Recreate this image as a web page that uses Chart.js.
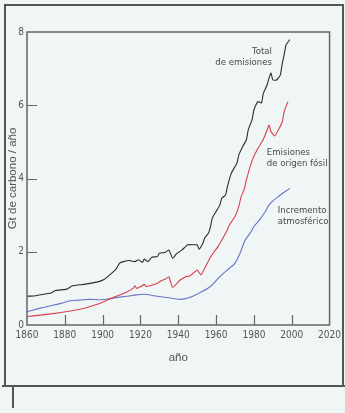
<!DOCTYPE html>
<html><head><meta charset="utf-8">
<script src="https://cdn.jsdelivr.net/npm/chart.js@4/dist/chart.umd.min.js"></script>
<style>html,body{margin:0;padding:0;background:#eff6f5;}canvas{display:block}</style>
</head><body>
<canvas id="c" width="345" height="413"></canvas>
<script>
const xTickLabels = [1860,1880,1900,1920,1940,1960,1980,2000,2020];
const yTickLabels = [0,2,4,6,8];

const totalYears = [1860,1863,1870,1873,1875,1881,1884,1890,1897,1901,1904,1907,1909,1911,1914,1917,1919,1921,1922,1924,1926,1929,1930,1933,1935,1937,1939,1942,1945,1948,1950,1951,1953,1954,1956,1957,1958,1960,1962,1963,1965,1966,1968,1971,1972,1974,1976,1977,1979,1980,1982,1984,1985,1987,1988,1989,1990,1992,1994,1995,1996,1997,1999];
const totalValues = [0.79,0.79,0.85,0.88,0.94,0.98,1.07,1.11,1.17,1.25,1.38,1.52,1.69,1.73,1.76,1.73,1.78,1.71,1.80,1.73,1.85,1.87,1.96,1.98,2.05,1.82,1.94,2.05,2.19,2.19,2.19,2.07,2.23,2.38,2.51,2.68,2.92,3.10,3.28,3.46,3.55,3.78,4.14,4.42,4.64,4.87,5.05,5.33,5.60,5.87,6.10,6.06,6.33,6.56,6.74,6.88,6.69,6.69,6.83,7.15,7.38,7.65,7.79];

const fossilYears = [1860,1867,1878,1883,1888,1893,1899,1904,1909,1913,1916,1917,1918,1921,1922,1923,1925,1929,1931,1933,1935,1937,1941,1944,1946,1949,1950,1952,1954,1957,1959,1961,1964,1966,1967,1970,1972,1973,1975,1976,1979,1982,1985,1987,1988,1989,1991,1993,1995,1996,1998];
const fossilValues = [0.23,0.27,0.34,0.38,0.43,0.50,0.60,0.72,0.82,0.91,1.00,1.07,1.00,1.07,1.11,1.05,1.07,1.14,1.21,1.25,1.32,1.03,1.23,1.32,1.34,1.46,1.50,1.37,1.55,1.85,2.00,2.14,2.41,2.60,2.73,2.96,3.23,3.46,3.73,3.96,4.48,4.81,5.07,5.33,5.46,5.28,5.16,5.33,5.55,5.83,6.10];

const atmosYears = [1860,1867,1878,1883,1888,1893,1899,1904,1909,1915,1922,1927,1934,1941,1946,1951,1957,1962,1967,1970,1973,1975,1978,1980,1983,1986,1988,1994,1999];
const atmosValues = [0.36,0.46,0.59,0.66,0.68,0.70,0.69,0.72,0.76,0.80,0.84,0.80,0.75,0.70,0.75,0.87,1.05,1.32,1.55,1.69,2.00,2.28,2.51,2.69,2.87,3.10,3.28,3.55,3.73];

const seriesLabels = ['Total de emisiones','Emisiones de origen fósil','Incremento atmosférico'];
const annotations = [
  {lines:['Total','de emisiones'], year:1989.5, value:7.46, align:'right'},
  {lines:['Emisiones','de origen fósil'], year:1986.8, value:4.70, align:'left'},
  {lines:['Incremento','atmosférico'], year:1992.6, value:3.12, align:'left'}
];

const NARROW = "'Liberation Sans Narrow','DejaVu Sans Condensed','Arial Narrow',sans-serif";
const REG = "'Liberation Sans',Arial,sans-serif";
const pts = (xs, ys) => xs.map((x, i) => ({x, y: ys[i]}));

const decor = {
  id: 'decor',
  beforeDraw(chart) {
    const ctx = chart.ctx;
    ctx.save();
    ctx.fillStyle = '#eff6f5';
    ctx.fillRect(0, 0, chart.width, chart.height);
    ctx.strokeStyle = '#555';
    ctx.lineWidth = 2;
    ctx.beginPath();
    ctx.moveTo(5, 386); ctx.lineTo(5, 5); ctx.lineTo(343, 5); ctx.lineTo(343, 386);
    ctx.moveTo(2, 386); ctx.lineTo(345, 386);
    ctx.moveTo(13, 386); ctx.lineTo(13, 408);
    ctx.stroke();
    ctx.restore();
  },
  afterDraw(chart) {
    const ctx = chart.ctx;
    const a = chart.chartArea;
    const xs = chart.scales.x, ys = chart.scales.y;
    ctx.save();
    ctx.strokeStyle = '#666';
    ctx.lineWidth = 1.5;
    ctx.strokeRect(a.left, a.top, a.right - a.left, a.bottom - a.top);
    ctx.lineWidth = 1.2;
    ctx.beginPath();
    yTickLabels.slice(1, -1).forEach(v => {
      const y = Math.round(ys.getPixelForValue(v)) + 0.5;
      ctx.moveTo(a.left, y); ctx.lineTo(a.left + 10, y);
    });
    xTickLabels.slice(1, -1).forEach(v => {
      const x = Math.round(xs.getPixelForValue(v)) + 0.5;
      ctx.moveTo(x, a.bottom); ctx.lineTo(x, a.bottom - 10);
    });
    ctx.stroke();
    ctx.fillStyle = '#4a4a4a';
    ctx.font = '9.5px ' + NARROW;
    ctx.textBaseline = 'middle';
    annotations.forEach(an => {
      const x = xs.getPixelForValue(an.year);
      const y = ys.getPixelForValue(an.value);
      ctx.textAlign = an.align;
      an.lines.forEach((t, i) => ctx.fillText(t, x, y + i * 11));
    });
    ctx.restore();
  }
};

new Chart(document.getElementById('c'), {
  type: 'line',
  data: {
    datasets: [
      {label: seriesLabels[0], data: pts(totalYears, totalValues), borderColor: '#2e2e2e', borderWidth: 1.1, pointRadius: 0, tension: 0.15, fill: false},
      {label: seriesLabels[1], data: pts(fossilYears, fossilValues), borderColor: '#d9404c', borderWidth: 1.1, pointRadius: 0, tension: 0.15, fill: false},
      {label: seriesLabels[2], data: pts(atmosYears, atmosValues), borderColor: '#6a72cc', borderWidth: 1.1, pointRadius: 0, cubicInterpolationMode: 'monotone', fill: false}
    ]
  },
  options: {
    responsive: false,
    animation: false,
    devicePixelRatio: 1,
    layout: {padding: {left: 0, top: 32, right: 14, bottom: 48}},
    plugins: {legend: {display: false}, tooltip: {enabled: false}},
    scales: {
      x: {
        type: 'linear', min: 1860, max: 2020,
        afterFit: s => { s.height = 40; },
        afterBuildTicks: s => { s.ticks = xTickLabels.map(v => ({value: v})); },
        grid: {display: false, drawTicks: false},
        border: {display: false},
        ticks: {color: '#555', padding: 4, maxRotation: 0, autoSkip: false, font: {family: NARROW, size: 10}, callback: v => String(v)},
        title: {display: true, text: 'año', color: '#555', padding: {top: 0, bottom: 0}, font: {family: REG, size: 11.5}}
      },
      y: {
        min: 0, max: 8,
        afterFit: s => { s.width = 27; },
        afterBuildTicks: s => { s.ticks = yTickLabels.map(v => ({value: v})); },
        grid: {display: false, drawTicks: false},
        border: {display: false},
        ticks: {color: '#555', padding: 3, font: {family: NARROW, size: 10}, callback: v => String(v)},
        title: {display: true, text: 'Gt de carbono / año', color: '#555', padding: {top: 6, bottom: 0}, font: {family: REG, size: 11.5}}
      }
    }
  },
  plugins: [decor]
});
</script>
</body></html>
